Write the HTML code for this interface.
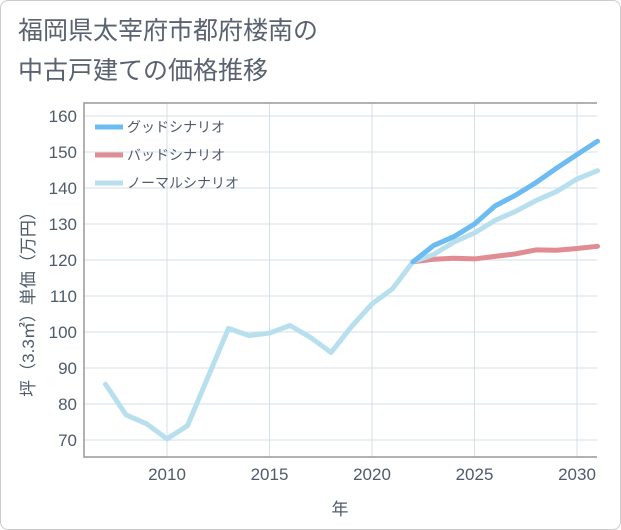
<!DOCTYPE html>
<html><head><meta charset="utf-8"><style>
body{margin:0;background:#fff;font-family:"Liberation Sans","Noto Sans CJK JP",sans-serif;}
#wrap{position:relative;width:619px;height:528px;border:1px solid #ccc;border-radius:8px;overflow:hidden;background:#fff}
#title{position:absolute;left:17px;top:10px;font-size:25px;line-height:40px;color:#5a6270;}
</style></head><body>
<div id="wrap">
<div id="title">福岡県太宰府市都府楼南の<br>中古戸建ての価格推移</div>
<svg id="chart" width="621" height="530" style="position:absolute;left:-1px;top:-1px"></svg>
</div>
<script>
const years=[2007,2008,2009,2010,2011,2012,2013,2014,2015,2016,2017,2018,2019,2020,2021,2022,2023,2024,2025,2026,2027,2028,2029,2030,2031];
const normal=[85.5,77,74.5,70.3,74,87.5,101,99,99.7,101.8,98.5,94.3,101.5,107.8,112,119.5,121.5,125,127.5,131,133.5,136.5,139,142.5,144.8];
const goodYears=[2022,2023,2024,2025,2026,2027,2028,2029,2030,2031];
const good=[119.5,124,126.5,130,135,138,141.5,145.5,149.3,153];
const bad=[119.5,120.2,120.5,120.3,121,121.7,122.8,122.7,123.2,123.8];
const yTicks=[70,80,90,100,110,120,130,140,150,160];
const xTicks=[2010,2015,2020,2025,2030];
const X0=84,X1=597,Y0=103,Y1=457;
const xs=y=>167+(y-2010)*20.5;
const ys=v=>440-(v-70)*3.6;
const svg=document.getElementById('chart');
const NS='http://www.w3.org/2000/svg';
const TC='#4f5b6b';
function mk(t,a){const e=document.createElementNS(NS,t);for(const k in a)e.setAttribute(k,a[k]);svg.appendChild(e);return e;}
yTicks.forEach(v=>{const l=mk('line',{x1:X0,x2:X1,y1:ys(v),y2:ys(v),stroke:'#d5dfea','stroke-width':1});


const t=mk('text',{x:77,y:ys(v)+6,'text-anchor':'end','font-size':17,fill:TC});t.textContent=v;

});
xTicks.forEach(v=>{const l=mk('line',{x1:xs(v),x2:xs(v),y1:Y0,y2:Y1,stroke:'#d5dfea','stroke-width':1});


const t=mk('text',{x:xs(v),y:480,'text-anchor':'middle','font-size':17,fill:TC});t.textContent=v;

});
const fr=mk('path',{d:`M${X1},${Y0}H${X0}V${Y1}H${X1}`,fill:'none',stroke:'#999','stroke-width':1.5});


function line(xv,yv,c,name){const d=xv.map((x,i)=>(i?'L':'M')+xs(x)+','+ys(yv[i])).join('');
const p=mk('path',{d:d,fill:'none',stroke:c,'stroke-width':5,'stroke-linejoin':'round','stroke-linecap':'round'});

}
line(goodYears,bad,'#e08c92','bad-scenario-line');
line(years,normal,'#b8dfee','normal-scenario-line');
line(goodYears,good,'#6cbcf2','good-scenario-line');
const leg=[['グッドシナリオ','#6cbcf2'],['バッドシナリオ','#e08c92'],['ノーマルシナリオ','#b8dfee']];
leg.forEach((g,i)=>{const y=127+i*28;
const l=mk('line',{x1:95,x2:123,y1:y,y2:y,stroke:g[1],'stroke-width':5});


const t=mk('text',{x:127,y:y+5,'font-size':14,fill:TC});t.textContent=g[0];

});
const xt=mk('text',{x:340,y:515,'text-anchor':'middle','font-size':17,fill:TC});xt.textContent='年';


const yt=mk('text',{x:0,y:0,'text-anchor':'middle','font-size':17,fill:TC,transform:'translate(34,300) rotate(-90)'});yt.textContent='坪（3.3㎡）単価（万円）';


</script>
</body></html>
